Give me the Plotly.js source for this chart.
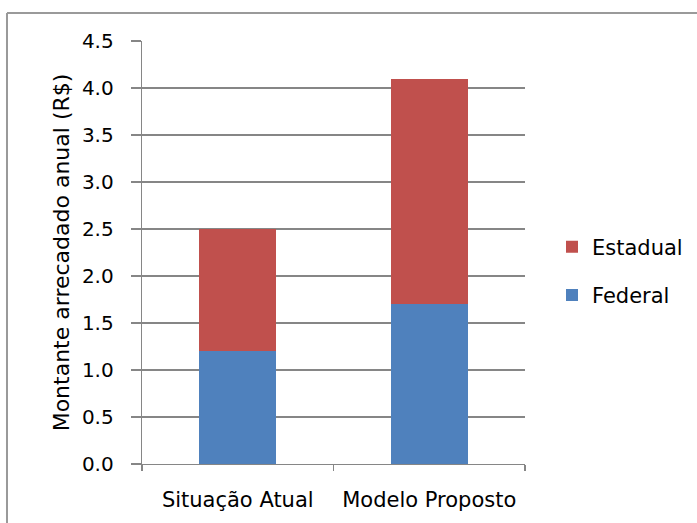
<!DOCTYPE html>
<html>
<head>
<meta charset="utf-8">
<script src="https://cdn.plot.ly/plotly-3.0.1.min.js"></script>
<style>
html,body{margin:0;padding:0;background:#fff;}
#chart{width:697px;height:523px;}
</style>
</head>
<body>
<div id="chart"></div>
<script>
const categories = ["Situação Atual", "Modelo Proposto"];
const federal = [1.2, 1.7];
const estadual = [1.3, 2.4];
const yTickVals = [0, 0.5, 1, 1.5, 2, 2.5, 3, 3.5, 4, 4.5];
const yTickText = ["0.0","0.5","1.0","1.5","2.0","2.5","3.0","3.5","4.0","4.5"];
const yTitle = "Montante arrecadado anual (R$)";

const fontFam = "DejaVu Sans, sans-serif";
const traces = [
  {type:"bar", name:"Federal", x:categories, y:federal, marker:{color:"#4F81BD"}, legendgroup:"f", legendrank:2, width:0.4},
  {type:"bar", name:"Estadual", x:categories, y:estadual, marker:{color:"#C0504D"}, legendgroup:"e", legendrank:1, width:0.4}
];
const layout = {
  width:697, height:523,
  margin:{l:142, r:172, t:41, b:59, autoexpand:false},
  barmode:"stack",
  paper_bgcolor:"#fff", plot_bgcolor:"#fff",
  font:{family:fontFam, color:"#000", size:20},
  showlegend:true,
  legend:{x:1.0705, y:0.456, xanchor:"left", yanchor:"middle", traceorder:"grouped", tracegroupgap:18, font:{size:21, family:fontFam}},
  xaxis:{type:"category", showline:true, linecolor:"#868686", linewidth:1.3, ticks:"outside", tickson:"boundaries", ticklen:6, tickcolor:"#868686", tickwidth:1.3, showgrid:false, tickfont:{size:21}, ticklabelstandoff:16},
  yaxis:{range:[0,4.5], tickvals:yTickVals, ticktext:yTickText, showline:true, linecolor:"#868686", linewidth:1.3, ticks:"outside", ticklen:10, tickcolor:"#868686", tickwidth:1.3, gridcolor:"#868686", gridwidth:1.3, zeroline:false, tickfont:{size:20}, ticklabelstandoff:13,
    title:{text:yTitle, font:{size:22}, standoff:6}},
  shapes:[
    {type:"line", xref:"paper", yref:"paper", x0:-0.3525, x1:1.6, y0:1.066, y1:1.066, line:{color:"#9A9A9A", width:2}},
    {type:"line", xref:"paper", yref:"paper", x0:-0.3525, x1:-0.3525, y0:1.066, y1:-0.2, line:{color:"#9A9A9A", width:2}}
  ]
};
Plotly.newPlot("chart", traces, layout, {displayModeBar:false, staticPlot:true});
</script>
</body>
</html>
